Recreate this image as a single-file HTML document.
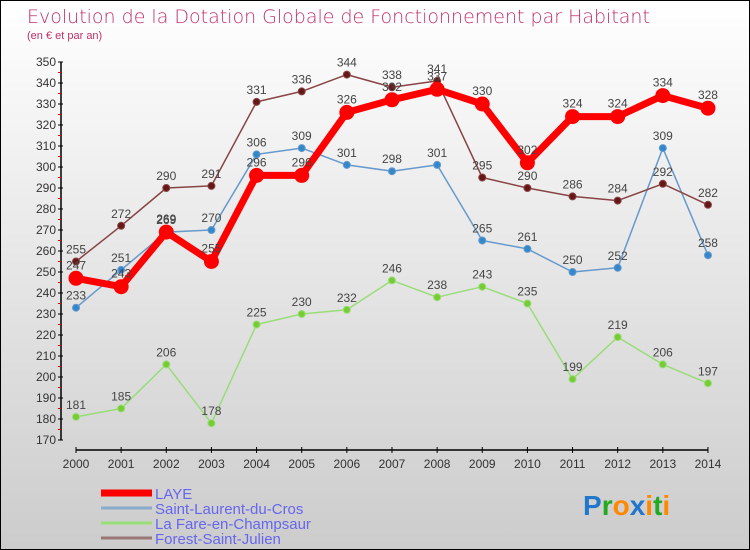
<!DOCTYPE html>
<html><head><meta charset="utf-8"><style>
body{margin:0}
#c{width:748px;height:548px;border:1px solid #000;background:linear-gradient(#fff,#ccc);position:relative;font-family:"Liberation Sans",sans-serif;overflow:hidden}
</style></head><body>
<div id="c">
<svg id="s" width="748" height="548" xmlns="http://www.w3.org/2000/svg" font-family="Liberation Sans, sans-serif">
<text x="26" y="22" font-size="19" fill="#c0306a" style="font-family:'DejaVu Sans',sans-serif;font-weight:200">Evolution de la Dotation Globale de Fonctionnement par Habitant</text>
<text x="26" y="38" font-size="11" fill="#c0306a">(en € et par an)</text>
</svg>
</div>
<script>
const years=[2000,2001,2002,2003,2004,2005,2006,2007,2008,2009,2010,2011,2012,2013,2014];
const laye=[247,243,269,255,296,296,326,332,337,330,302,324,324,334,328];
const saintLaurent=[233,251,269,270,306,309,301,298,301,265,261,250,252,309,258];
const laFare=[181,185,206,178,225,230,232,246,238,243,235,199,219,206,197];
const forest=[255,272,290,291,331,336,344,338,341,295,290,286,284,292,282];
const yTicks=[170,180,190,200,210,220,230,240,250,260,270,280,290,300,310,320,330,340,350];
const s=document.getElementById('s');const NS='http://www.w3.org/2000/svg';
function X(i){return 75+i*45.14;}
function Y(v){return 439-(v-170)*(378/180);}
function el(t,a,p){const e=document.createElementNS(NS,t);for(const k in a)e.setAttribute(k,a[k]);(p||s).appendChild(e);return e;}
let ax=el('line',{x1:60,y1:Y(350),x2:60,y2:Y(170),stroke:'#000','stroke-width':1.5});


let xa=el('line',{x1:75,y1:449,x2:X(14),y2:449,stroke:'#000','stroke-width':1.5});


yTicks.forEach(v=>{
 el('line',{x1:57,y1:Y(v),x2:62,y2:Y(v),stroke:'#000'});
 if(v<350)el('line',{x1:57,y1:Y(v+5),x2:60,y2:Y(v+5),stroke:'#e00'});
 const t=el('text',{x:55,y:Y(v)+4,'text-anchor':'end','font-size':12,fill:'#333'});t.textContent=v;
 
 
});
years.forEach((y,i)=>{
 el('line',{x1:X(i),y1:446,x2:X(i),y2:452,stroke:'#000'});
 const t=el('text',{x:X(i),y:467,'text-anchor':'middle','font-size':12,fill:'#333'});t.textContent=y;
 
 
});
function series(d,color,w,r,fill,name,labelDy){
 const g=el('g',{});
 
 
 el('polyline',{points:d.map((v,i)=>X(i)+','+Y(v)).join(' '),fill:'none',stroke:color,'stroke-width':w,'stroke-linejoin':'round'},g);
 d.forEach((v,i)=>{
  const c=el('circle',{cx:X(i),cy:Y(v),r:r,fill:fill,stroke:color,'stroke-width':1},g);
  
  
  const t=el('text',{x:X(i),y:Y(v)-labelDy,'text-anchor':'middle','font-size':12,fill:'#444'},g);t.textContent=v;
  
  
 });
}
series(laFare,'#99dd77',1.5,3.5,'#77cc33','la-fare',8);
series(saintLaurent,'#6699cc',1.5,3.5,'#3388cc','saint-laurent',8);
series(forest,'#884444',1.5,3.5,'#661818','forest',8);
series(laye,'#ff0000',7,7,'#ff0000','laye',9);
const leg=[['LAYE','#ff0000',7],['Saint-Laurent-du-Cros','#88aacc',3],['La Fare-en-Champsaur','#99dd77',3],['Forest-Saint-Julien','#997777',3]];
leg.forEach((l,i)=>{
 const y=492+i*15;
 el('line',{x1:100,y1:y,x2:151,y2:y,stroke:l[1],'stroke-width':l[2]});
 const t=el('text',{x:154,y:y+6,'font-size':15,fill:'#6666ee'});t.textContent=l[0];
 
 
});
const p=el('text',{x:582,y:514,'font-size':28,'font-weight':'bold'});


[['P','#2277cc'],['r','#22aa22'],['o','#ff8800'],['x','#2277cc'],['i','#ff8800'],['t','#22aa22'],['i','#ff8800']].forEach(a=>{const ts=el('tspan',{fill:a[1]},p);ts.textContent=a[0];});
</script>
</body></html>
